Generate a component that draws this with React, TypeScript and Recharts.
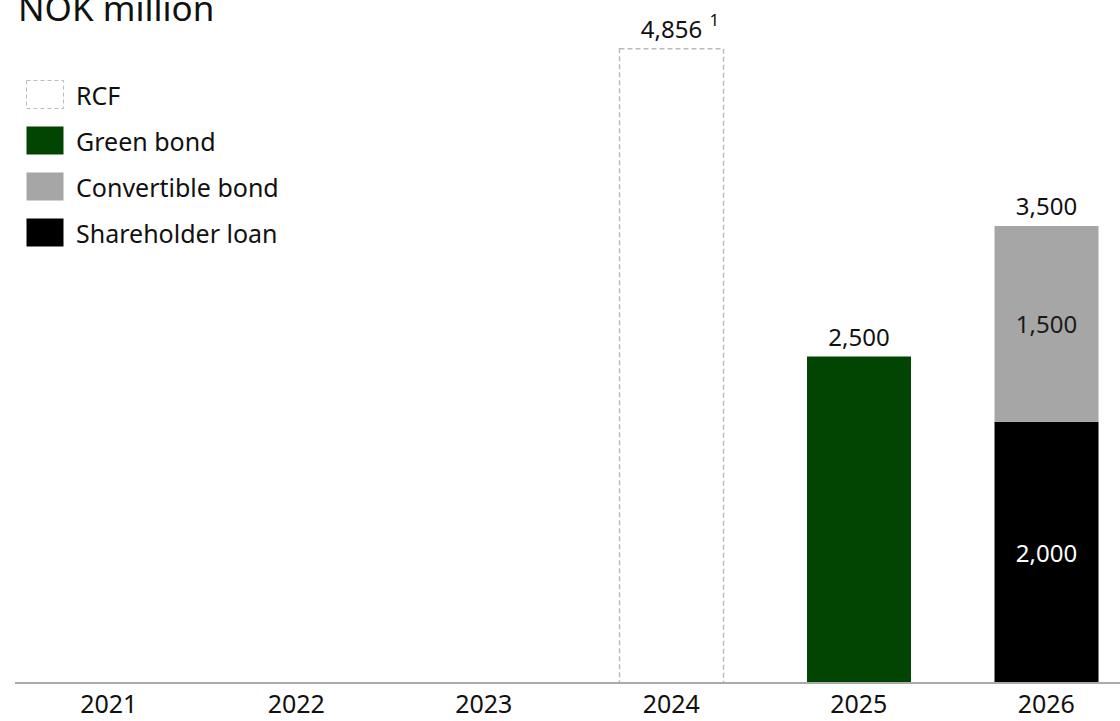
import { BarChart, Bar, XAxis, YAxis, LabelList } from 'recharts'

const years = ['2021', '2022', '2023', '2024', '2025', '2026']
const rcf = [null, null, null, 4856, null, null]
const greenBond = [null, null, null, null, 2500, null]
const convertibleBond = [null, null, null, null, null, 1500]
const shareholderLoan = [null, null, null, null, null, 2000]
const footnotes = ['', '', '', '1', '', '']

const legendItems = [
  { name: 'RCF', fill: '#ffffff', dashed: true },
  { name: 'Green bond', fill: '#024402' },
  { name: 'Convertible bond', fill: '#a6a6a6' },
  { name: 'Shareholder loan', fill: '#000000' },
]

const FONT = '"Noto Sans", "Open Sans", sans-serif'

const data = years.map((year, i) => ({
  year,
  rcf: rcf[i],
  green: greenBond[i],
  convertible: convertibleBond[i],
  shareholder: shareholderLoan[i],
  total: (rcf[i] ?? 0) + (greenBond[i] ?? 0) + (convertibleBond[i] ?? 0) + (shareholderLoan[i] ?? 0),
  note: footnotes[i],
}))

const fmt = (v: number) => v.toLocaleString('en-US')

// label key for the top segment of a stack: "total|footnote"
const topKey = (key: string) => (d: any) => (d[key] != null ? `${d.total}|${d.note}` : null)

function TopLabel(props: any) {
  const { x, y, width, value } = props
  if (value == null || typeof value !== 'string') return null
  const [total, note] = value.split('|')
  const cx = x + width / 2
  return (
    <g>
      <text x={cx} y={y - 11} textAnchor="middle" fontSize={24} fill="#111" fontFamily={FONT}>
        {fmt(Number(total))}
      </text>
      {note && (
        <text x={cx + 38} y={y - 23} fontSize={17} fill="#111" fontFamily={FONT}>
          {note}
        </text>
      )}
    </g>
  )
}

function InsideLabel(color: string) {
  return (props: any) => {
    const { x, y, width, height, value } = props
    if (value == null) return null
    return (
      <text
        x={x + width / 2}
        y={y + height / 2}
        textAnchor="middle"
        dominantBaseline="central"
        fontSize={24}
        fill={color}
        fontFamily={FONT}
      >
        {fmt(Number(value))}
      </text>
    )
  }
}

function YearTick(props: any) {
  const { x, y, payload } = props
  return (
    <text x={x} y={y + 22} textAnchor="middle" fontSize={25} fill="#111" fontFamily={FONT}>
      {payload.value}
    </text>
  )
}

export default function App() {
  return (
    <div style={{ position: 'absolute', left: 0, top: 0, width: 1120, height: 721, overflow: 'hidden', background: '#fff' }}>
      <BarChart
        width={1140}
        height={721}
        data={data}
        margin={{ top: 30, right: 0, left: 15, bottom: 0 }}
        barSize={104}
      >
        <XAxis
          dataKey="year"
          axisLine={{ stroke: '#aaaaaa', strokeWidth: 2 }}
          tickLine={false}
          height={38}
          tick={<YearTick />}
          interval={0}
        />
        <YAxis hide domain={[0, 5000]} />
        <Bar dataKey="rcf" stackId="a" fill="#ffffff" stroke="#bbbbbb" strokeWidth={1.5} strokeDasharray="5 3" isAnimationActive={false}>
          <LabelList dataKey={topKey('rcf')} content={<TopLabel />} />
        </Bar>
        <Bar dataKey="green" stackId="a" fill="#024402" isAnimationActive={false}>
          <LabelList dataKey={topKey('green')} content={<TopLabel />} />
        </Bar>
        <Bar dataKey="shareholder" stackId="a" fill="#000000" isAnimationActive={false}>
          <LabelList dataKey="shareholder" content={InsideLabel('#ffffff')} />
        </Bar>
        <Bar dataKey="convertible" stackId="a" fill="#a6a6a6" isAnimationActive={false}>
          <LabelList dataKey="convertible" content={InsideLabel('#1a1a1a')} />
          <LabelList dataKey={topKey('convertible')} content={<TopLabel />} />
        </Bar>
      </BarChart>

      <svg width={400} height={260} style={{ position: 'absolute', left: 0, top: 0, pointerEvents: 'none' }}>
        <text x={18} y={21} fontSize={35} fill="#111" fontFamily={FONT}>
          NOK million
        </text>
        {legendItems.map((item, i) => {
          const top = 80 + i * 46
          return (
            <g key={item.name}>
              <rect
                x={26.5}
                y={top + 0.5}
                width={37}
                height={28}
                fill={item.fill}
                stroke={item.dashed ? '#bbbbbb' : 'none'}
                strokeDasharray={item.dashed ? '4 3' : undefined}
              />
              <text x={76} y={top + 25} fontSize={25} fill="#111" fontFamily={FONT}>
                {item.name}
              </text>
            </g>
          )
        })}
      </svg>
    </div>
  )
}
